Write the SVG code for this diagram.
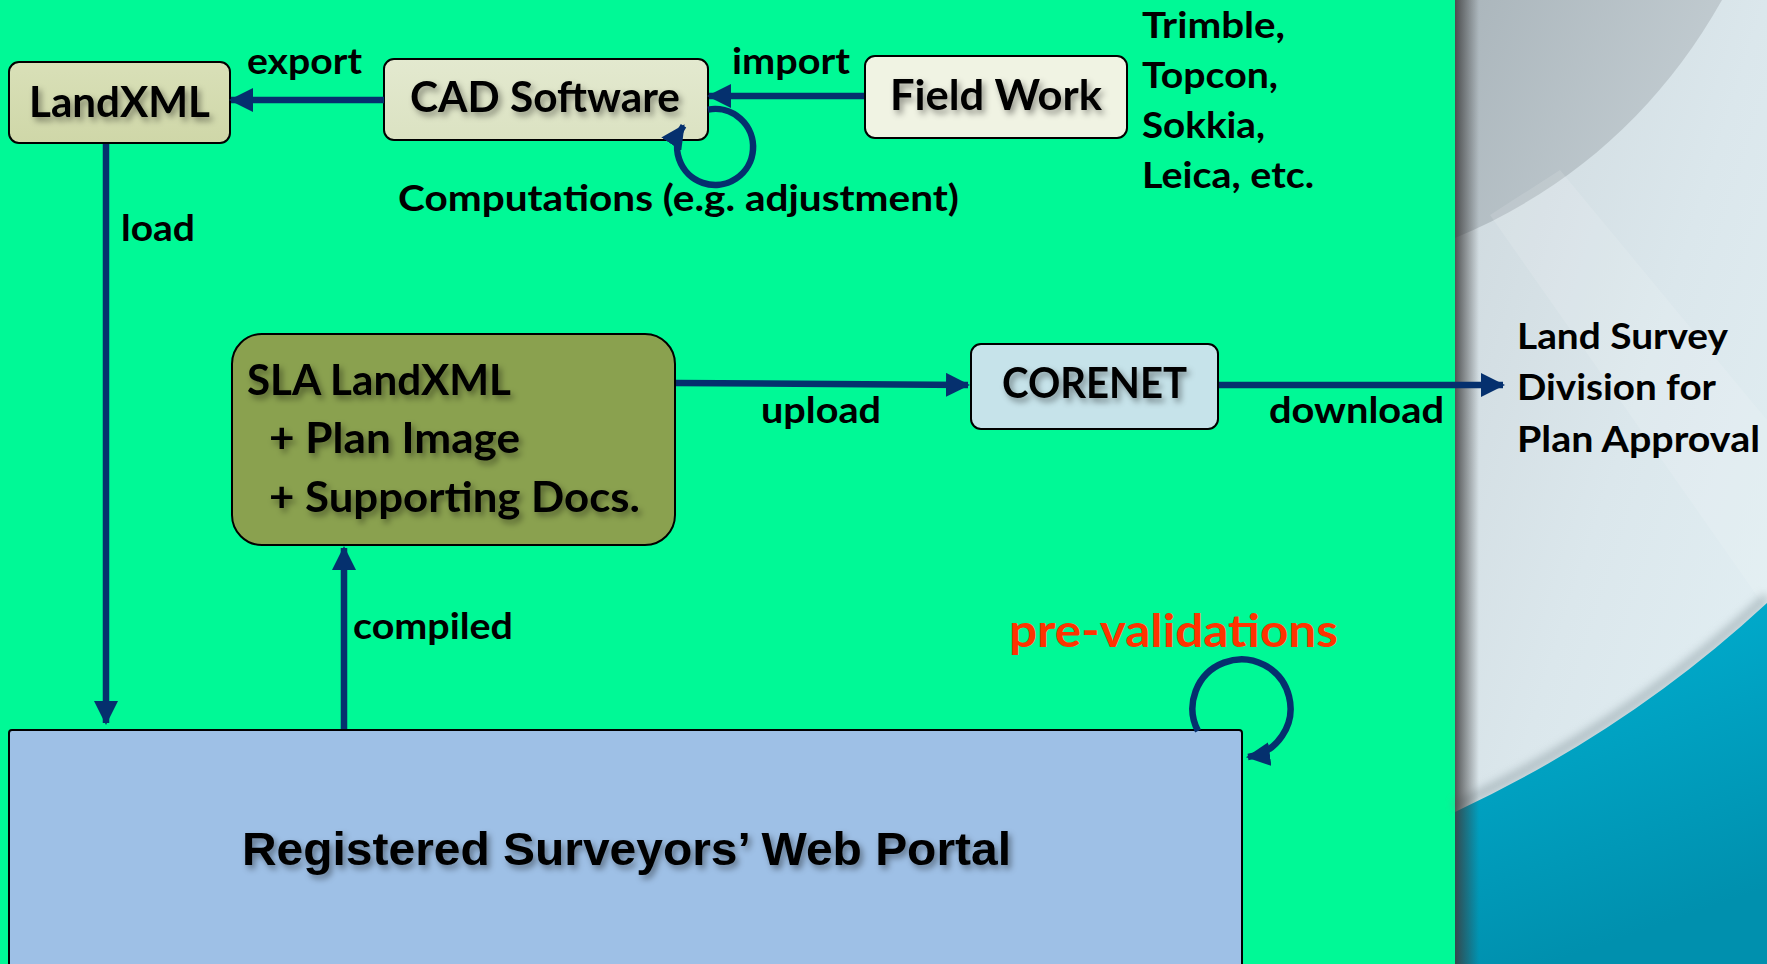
<svg xmlns="http://www.w3.org/2000/svg" width="1767" height="964" viewBox="0 0 1767 964">
  <defs>
    <style>
      .box { stroke: #000; stroke-width: 2; }
      .lbl { font-family: Lato, "Noto Sans", "DejaVu Sans", sans-serif; font-weight: 700; font-size: 36px; fill: #000; }
      .nt { font-family: Lato, "Noto Sans", "DejaVu Sans", sans-serif; font-weight: 700; font-size: 42px; fill: #000; filter: url(#ts); }
      .pt { font-family: "Liberation Sans", Arial, sans-serif; font-weight: 700; font-size: 46px; fill: #000; filter: url(#ts); }
      .red { fill: #ff3300; font-size: 45px; }
      .edge { fill: none; stroke: #05306e; stroke-width: 6.5; marker-end: url(#ah); }
    </style>
    <marker id="ah" markerUnits="userSpaceOnUse" markerWidth="24" markerHeight="24" viewBox="0 0 24 24" refX="22" refY="12" orient="auto">
      <path d="M0,0 L24,12 L0,24 z" fill="#05306e"/>
    </marker>
    <filter id="ts" x="-10%" y="-30%" width="120%" height="170%">
      <feDropShadow dx="3" dy="4" stdDeviation="3" flood-color="#000" flood-opacity="0.4"/>
    </filter>
    <filter id="blur6" x="-10%" y="-50%" width="120%" height="200%">
      <feGaussianBlur stdDeviation="5"/>
    </filter>
    <linearGradient id="rbg" x1="0" y1="0" x2="1" y2="1">
      <stop offset="0" stop-color="#cdd7dc"/>
      <stop offset="0.5" stop-color="#dbe7ec"/>
      <stop offset="1" stop-color="#e4f1f5"/>
    </linearGradient>
    <linearGradient id="darkArc" x1="0" y1="0" x2="1" y2="0.4">
      <stop offset="0" stop-color="#aab5bb"/>
      <stop offset="1" stop-color="#c3cdd2"/>
    </linearGradient>
    <linearGradient id="cyan" x1="0" y1="0" x2="0.3" y2="1">
      <stop offset="0" stop-color="#00b2d4"/>
      <stop offset="1" stop-color="#0090ae"/>
    </linearGradient>
    <linearGradient id="edgeShade" x1="0" y1="0" x2="1" y2="0">
      <stop offset="0" stop-color="#3c3c3c" stop-opacity="0.85"/>
      <stop offset="1" stop-color="#3c3c3c" stop-opacity="0"/>
    </linearGradient>
    <linearGradient id="gLand" x1="0" y1="0" x2="0" y2="1">
      <stop offset="0" stop-color="#d9e0b8"/>
      <stop offset="1" stop-color="#cfd7a8"/>
    </linearGradient>
    <linearGradient id="gCad" x1="0" y1="0" x2="0" y2="1">
      <stop offset="0" stop-color="#e3e9cf"/>
      <stop offset="1" stop-color="#dbe2c2"/>
    </linearGradient>
  </defs>

  <!-- background -->
  <g id="background">
    <rect x="0" y="0" width="1456" height="964" fill="#00f996"/>
    <rect x="1455" y="0" width="312" height="964" fill="url(#rbg)"/>
    <path d="M1455,0 L1722,0 C1660,110 1570,190 1455,238 Z" fill="url(#darkArc)"/>
    <path d="M1490,215 L1767,610 L1767,420 L1560,170 Z" fill="#ffffff" opacity="0.12"/>
    <path d="M1455,806 Q1630,724 1767,597" fill="none" stroke="#7f9096" stroke-width="8" opacity="0.55" filter="url(#blur6)"/>
    <path d="M1455,812 Q1630,730 1767,603 L1767,964 L1455,964 Z" fill="url(#cyan)"/>
    <rect x="1455" y="0" width="24" height="964" fill="url(#edgeShade)"/>
  </g>

  <!-- nodes -->
  <g id="node-landxml">
    <rect class="box" x="9" y="62" width="221" height="81" rx="10" fill="url(#gLand)"/>
    <text class="nt" x="29" y="117" textLength="181" lengthAdjust="spacingAndGlyphs">LandXML</text>
  </g>
  <g id="node-cad">
    <rect class="box" x="384" y="59" width="324" height="81" rx="10" fill="url(#gCad)"/>
    <text class="nt" x="410" y="112" textLength="270" lengthAdjust="spacingAndGlyphs">CAD Software</text>
  </g>
  <g id="node-fieldwork">
    <rect class="box" x="865" y="56" width="262" height="82" rx="10" fill="#f0f3e3"/>
    <text class="nt" x="890" y="110" textLength="212" lengthAdjust="spacingAndGlyphs">Field Work</text>
  </g>
  <g id="node-vendors">
    <text class="lbl" x="1142" y="38" textLength="143" lengthAdjust="spacingAndGlyphs">Trimble,</text>
    <text class="lbl" x="1142" y="88" textLength="136" lengthAdjust="spacingAndGlyphs">Topcon,</text>
    <text class="lbl" x="1142" y="138" textLength="123" lengthAdjust="spacingAndGlyphs">Sokkia,</text>
    <text class="lbl" x="1142" y="188" textLength="172" lengthAdjust="spacingAndGlyphs">Leica, etc.</text>
  </g>
  <g id="node-sla">
    <rect class="box" x="232" y="334" width="443" height="211" rx="30" fill="#8aa14f"/>
    <text class="nt" x="247" y="395" textLength="264" lengthAdjust="spacingAndGlyphs">SLA LandXML</text>
    <text class="nt" x="269" y="453" textLength="251" lengthAdjust="spacingAndGlyphs">+ Plan Image</text>
    <text class="nt" x="269" y="512" textLength="371" lengthAdjust="spacingAndGlyphs">+ Supporting Docs.</text>
  </g>
  <g id="node-corenet">
    <rect class="box" x="971" y="344" width="247" height="85" rx="10" fill="#c6e3ea"/>
    <text class="nt" x="1002" y="398" textLength="185" lengthAdjust="spacingAndGlyphs">CORENET</text>
  </g>
  <g id="node-lsd">
    <text class="lbl" x="1517" y="349" textLength="211" lengthAdjust="spacingAndGlyphs">Land Survey</text>
    <text class="lbl" x="1517" y="400" textLength="199" lengthAdjust="spacingAndGlyphs">Division for</text>
    <text class="lbl" x="1517" y="452" textLength="243" lengthAdjust="spacingAndGlyphs">Plan Approval</text>
  </g>
  <g id="node-portal">
    <rect class="box" x="9" y="730" width="1233" height="260" rx="3" fill="#9ec0e6"/>
    <text class="pt" x="242" y="865" textLength="769" lengthAdjust="spacingAndGlyphs">Registered Surveyors’ Web Portal</text>
  </g>

  <!-- connectors -->
  <g id="connectors">
    <path class="edge" d="M864,96 L709,96"/>
    <path class="edge" d="M384,100 L231,100"/>
    <path class="edge" d="M708,109.6 A38,38 0 1 1 683.5,125.8"/>
    <path class="edge" d="M106,144 L106,723"/>
    <path class="edge" d="M344,729 L344,548"/>
    <path class="edge" d="M676,383 L968,385"/>
    <path class="edge" d="M1219,385 L1503,385"/>
    <path class="edge" d="M1198,731 A49,49 0 1 1 1248,757"/>
  </g>

  <!-- connector labels -->
  <g id="edge-labels">
    <text class="lbl" x="247" y="74" textLength="115" lengthAdjust="spacingAndGlyphs">export</text>
    <text class="lbl" x="732" y="74" textLength="118" lengthAdjust="spacingAndGlyphs">import</text>
    <text class="lbl" x="398" y="211" textLength="561" lengthAdjust="spacingAndGlyphs">Computations (e.g. adjustment)</text>
    <text class="lbl" x="121" y="241" textLength="74" lengthAdjust="spacingAndGlyphs">load</text>
    <text class="lbl" x="761" y="423" textLength="120" lengthAdjust="spacingAndGlyphs">upload</text>
    <text class="lbl" x="1269" y="423" textLength="175" lengthAdjust="spacingAndGlyphs">download</text>
    <text class="lbl" x="353" y="639" textLength="160" lengthAdjust="spacingAndGlyphs">compiled</text>
    <text class="lbl red" x="1009" y="647" textLength="329" lengthAdjust="spacingAndGlyphs">pre-validations</text>
  </g>
</svg>
